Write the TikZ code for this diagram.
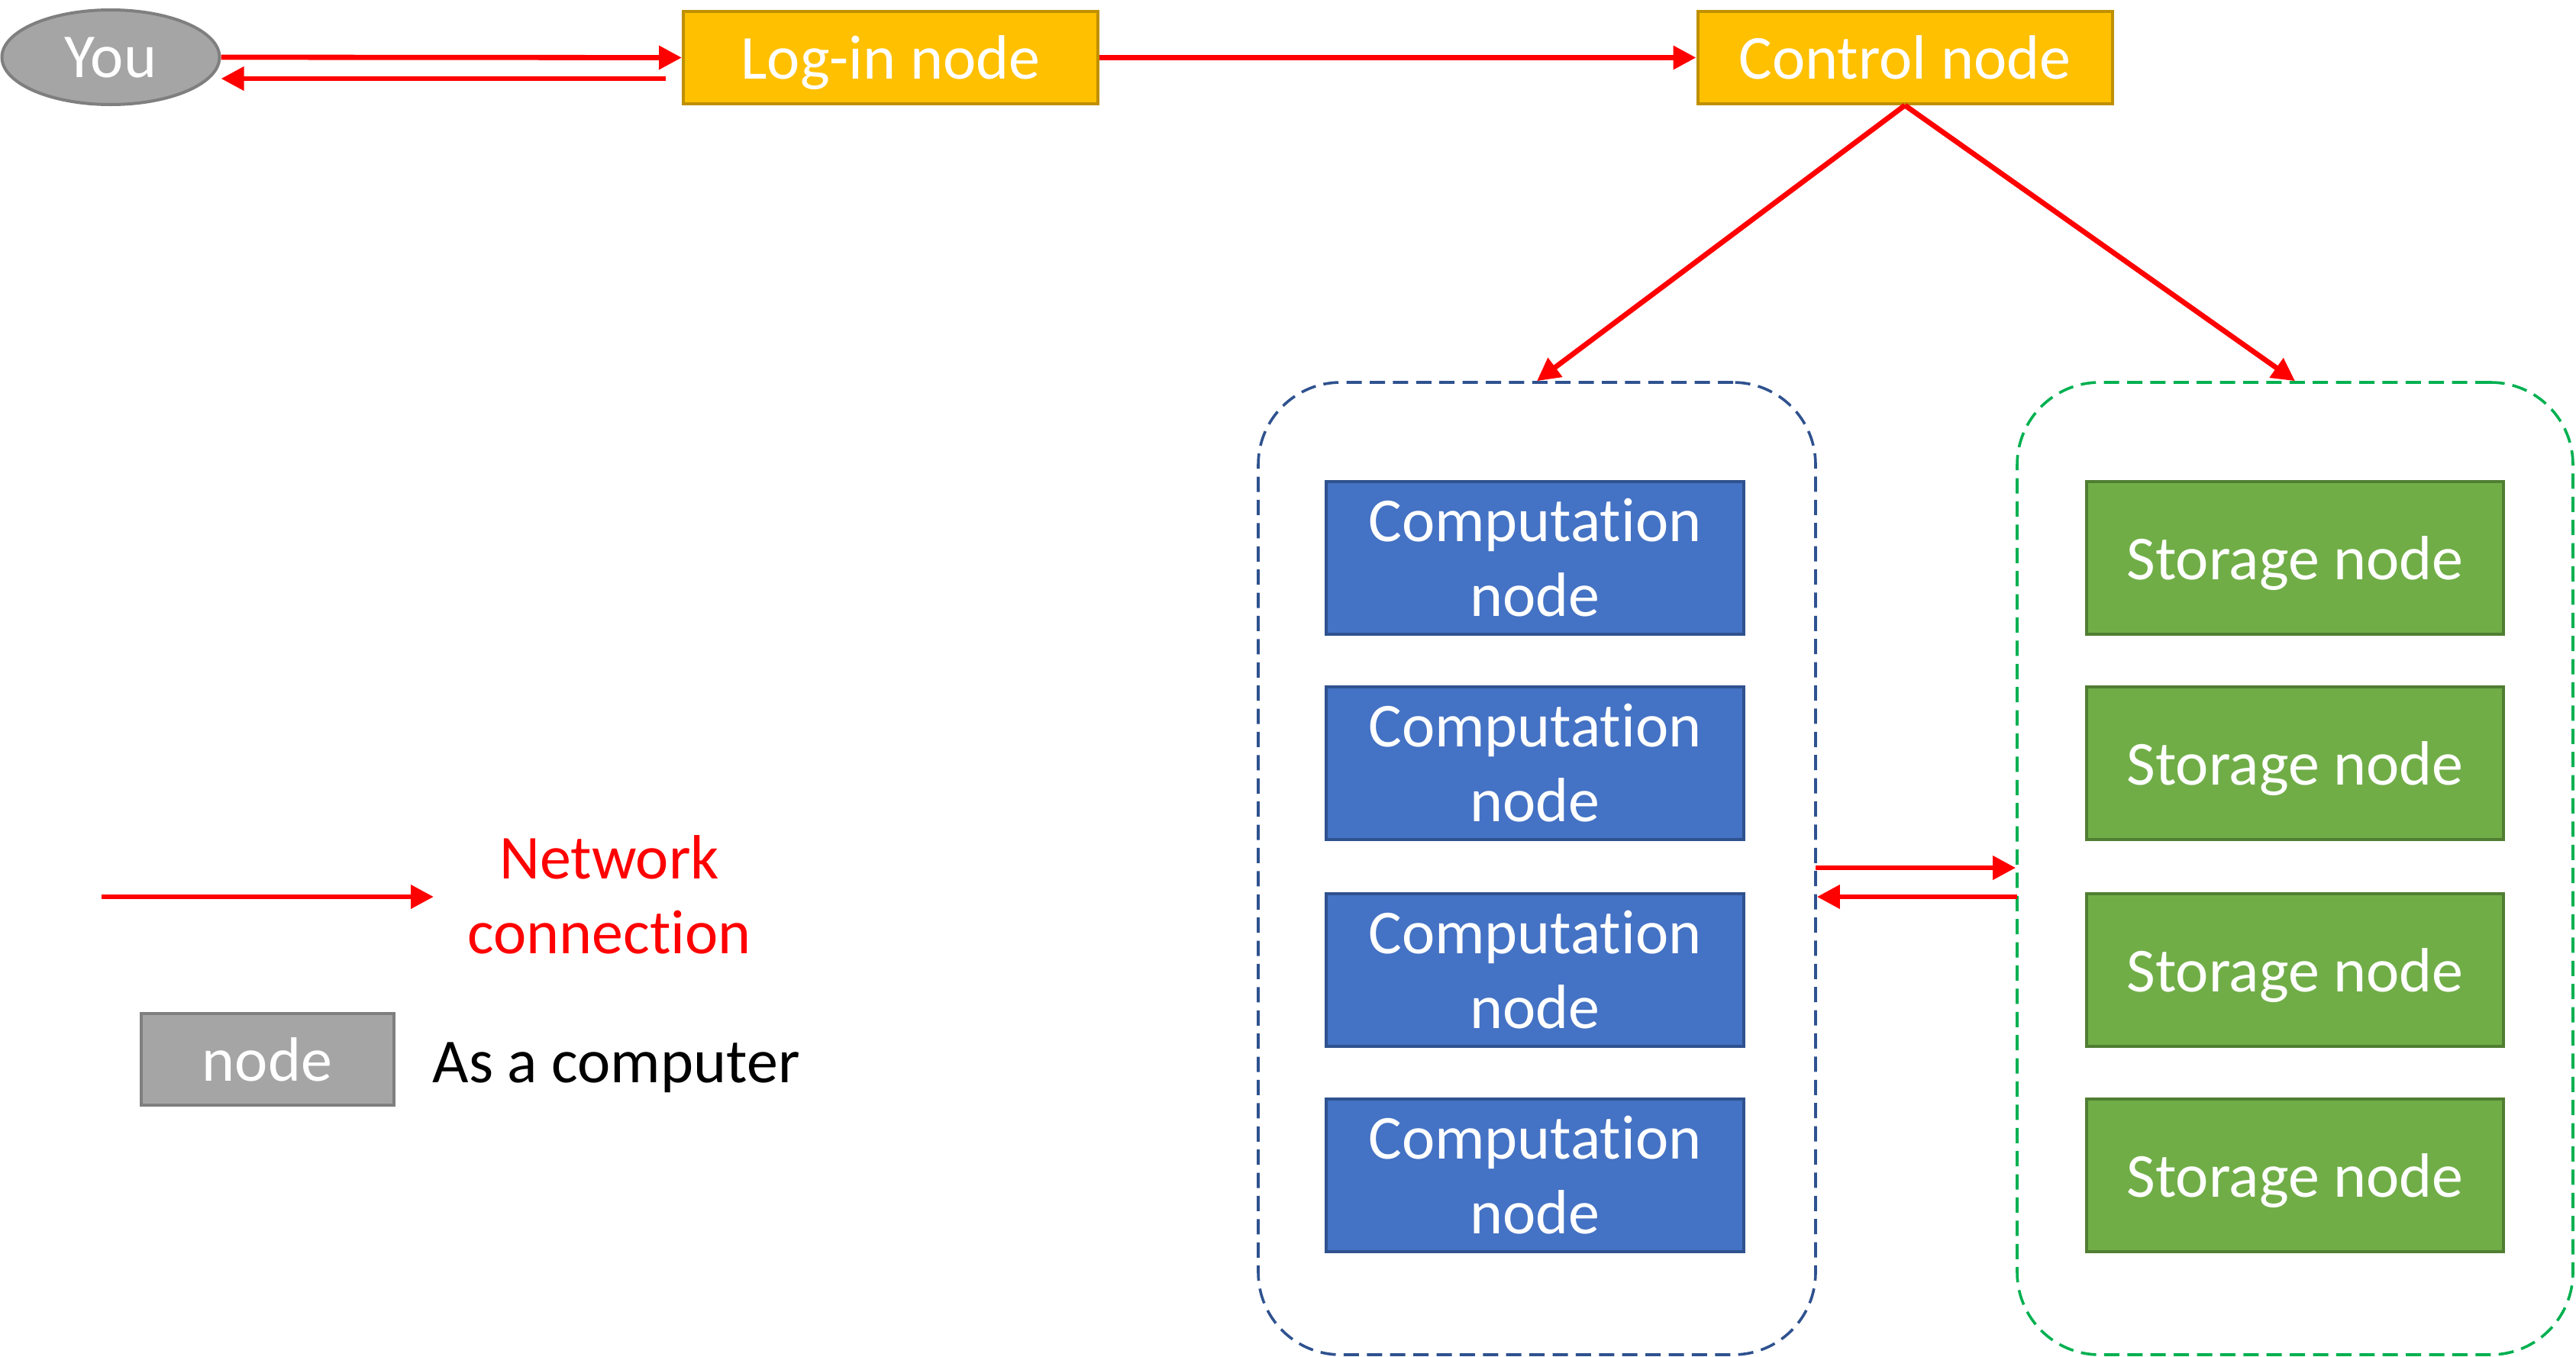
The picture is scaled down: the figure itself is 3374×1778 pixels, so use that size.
\documentclass[tikz,border=0pt]{standalone}
\usepackage{fontspec}
\setmainfont{Carlito}[RawFeature={-liga;-clig;-calt;-dlig}]
\usetikzlibrary{arrows.meta,shapes.geometric}
\definecolor{gold}{HTML}{FFC000}
\definecolor{goldline}{HTML}{BF9000}
\definecolor{cblue}{HTML}{4472C4}
\definecolor{cblueline}{HTML}{2F528F}
\definecolor{sgreen}{HTML}{70AD47}
\definecolor{sgreenline}{HTML}{507E32}
\definecolor{ggreen}{HTML}{00B050}
\definecolor{ngray}{HTML}{A5A5A5}
\definecolor{ngrayline}{HTML}{7F7F7F}
\definecolor{netred}{HTML}{FF0000}
\newcommand{\comptxt}{Computat\kern0pt ion\\node}
\begin{document}
\begin{tikzpicture}[x=0.25pt,y=-0.25pt,
  font=\fontsize{20.5}{24.5}\selectfont,
  box/.style={draw, line width=1pt, inner sep=0pt, text=white, align=center},
  oneline/.style={text depth=0pt},
  yellowbox/.style={box, oneline, fill=gold, draw=goldline, minimum width=135.75pt, minimum height=30.25pt},
  compbox/.style={box, fill=cblue, draw=cblueline, minimum width=136.75pt, minimum height=50pt},
  storbox/.style={box, oneline, fill=sgreen, draw=sgreenline, minimum width=136.5pt, minimum height=50pt},
  graybox/.style={box, oneline, fill=ngray, draw=ngrayline, minimum width=82.75pt, minimum height=30pt},
  group/.style={draw, dash pattern=on 5pt off 2.6pt, line width=0.9pt, rounded corners=27pt, inner sep=0pt, minimum width=182.5pt, minimum height=318.5pt},
  net/.style={draw=netred, line width=1.7pt, -{Triangle[length=7.5pt,width=7.5pt]}}
]
\useasboundingbox (0,0) rectangle (3374,1778);

% top row
\node[ellipse, draw=ngrayline, fill=ngray, line width=1pt, inner sep=0pt,
      minimum width=71.25pt, minimum height=31pt, text=white] (you) at (145,75) {You};
\node[yellowbox] (login) at (1166.5,75.5) {Log-in node};
\node[yellowbox] (control) at (2495,75.5) {Control node};

% groups
\node[group, draw=cblueline] (cgroup) at (2013,1138) {};
\node[group, draw=ggreen, minimum width=182pt] (sgroup) at (3006,1138) {};

% computation nodes
\node[compbox] (c1) at (2010.5,731) {\comptxt};
\node[compbox] (c2) at (2010.5,1000) {\comptxt};
\node[compbox] (c3) at (2010.5,1271) {\comptxt};
\node[compbox] (c4) at (2010.5,1540) {\comptxt};

% storage nodes
\node[storbox] (s1) at (3006,731) {Storage node};
\node[storbox] (s2) at (3006,1000) {Storage node};
\node[storbox] (s3) at (3006,1271) {Storage node};
\node[storbox] (s4) at (3006,1540) {Storage node};

% connections
\draw[net] (you.east) -- (login.west);
\coordinate (ret) at (872,103);
\draw[net] (ret) -- (ret -| you.east);
\draw[net] (login.east) -- (control.west);
\draw[net] (control.south) -- (cgroup.north);
\draw[net] (control.south) -- (sgroup.north);
\coordinate (mid1) at (2378,1137);
\coordinate (mid2) at (2642,1175);
\draw[net] (mid1) -- (mid1 -| sgroup.west);
\draw[net] (mid2) -- (mid2 -| cgroup.east);

% legend
\coordinate (legA) at (133,1175);
\coordinate (legB) at (568,1175);
\draw[net] (legA) -- (legB);
\node[text=netred, align=center, inner sep=0pt] (legtext) at (798,1172) {Network\\connection};
\node[graybox] (legnode) at (350,1388) {node};
\node[anchor=west, inner sep=0pt, text depth=0pt] (legcomp) at (566,1392) {As a computer};
\end{tikzpicture}
\end{document}
